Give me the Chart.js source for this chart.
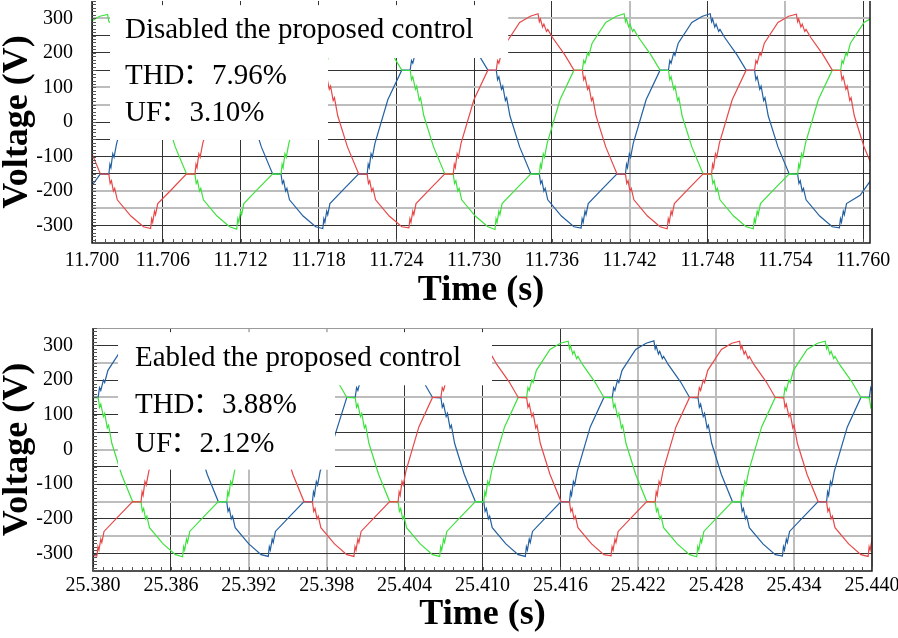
<!DOCTYPE html>
<html>
<head>
<meta charset="utf-8">
<script src="https://cdn.jsdelivr.net/npm/chart.js@4.4.1/dist/chart.umd.min.js"></script>
<style>
  html, body { margin: 0; padding: 0; background: #fff; }
  #wrap { position: relative; width: 898px; height: 638px; }
  canvas { position: absolute; left: 0; }
  #top { top: 0; }
  #bottom { top: 320px; }
</style>
</head>
<body>
<div id="wrap">
  <canvas id="top" width="898" height="320"></canvas>
  <canvas id="bottom" width="898" height="318"></canvas>
</div>
<script>
// time is in ms from the start of each window, voltage in V
const topTickTimes = [0.53, 6, 12, 18, 24, 30, 36, 42, 48, 54, 60];
const topTickLabels = ['11.700', '11.706', '11.712', '11.718', '11.724', '11.730', '11.736', '11.742', '11.748', '11.754', '11.760'];
const bottomTickTimes = [0, 6, 12, 18, 24, 30, 36, 42, 48, 54, 60];
const bottomTickLabels = ['25.380', '25.386', '25.392', '25.398', '25.404', '25.410', '25.416', '25.422', '25.428', '25.434', '25.440'];
const voltGridValues = [-300, -250, -200, -150, -100, -50, 0, 50, 100, 150, 200, 250, 300];
const voltTickValues = [-300, -200, -100, 0, 100, 200, 300];
const voltTickLabels = ['-300', '-200', '-100', '0', '100', '200', '300'];

const topNotes = ['Disabled the proposed control', 'THD：7.96%', 'UF：3.10%'];
const bottomNotes = ['Eabled the proposed control', 'THD：3.88%', 'UF：2.12%'];

// disabled control, phase a / b / c  [t (ms), V]
const topRed = [
  [-2.14,150],[-1.49,149],[-1.39,122],[-1.29,131],[-1.09,95],[-0.99,104],[-0.79,62],[-0.69,70],[-0.44,18],[0.31,-72],
  [1.18,-150],[1.83,-151],[1.93,-178],[2.03,-170],[2.18,-200],[2.28,-192],[2.48,-225],[3.53,-272],
  [4.50,-303],[5.05,-308],[5.13,-280],[5.21,-290],[5.35,-258],[5.43,-268],[5.60,-236],[6.65,-196],
  [7.82,-150],[8.47,-151],[8.55,-122],[8.63,-132],[8.77,-92],[8.87,-102],[9.07,-62],[10.07,65],
  [11.14,150],[11.79,151],[12.54,228],[13.59,288],
  [14.41,306],[15.01,311],[16.06,245],[17.01,195],
  [17.78,150],[18.43,149],[18.53,122],[18.63,131],[18.83,95],[18.93,104],[19.13,62],[19.23,70],[19.48,18],[20.23,-72],
  [21.10,-150],[21.75,-151],[21.85,-178],[21.95,-170],[22.10,-200],[22.20,-192],[22.40,-225],[23.45,-272],
  [24.42,-303],[24.97,-306],[25.05,-280],[25.13,-290],[25.27,-258],[25.35,-268],[25.52,-236],[26.57,-195],
  [27.74,-150],[28.39,-151],[28.47,-122],[28.55,-132],[28.69,-92],[28.79,-102],[28.99,-62],[29.99,65],
  [31.06,150],[31.71,151],[31.81,178],[31.91,170],[32.11,200],[32.21,193],[32.46,228],[33.51,288],
  [34.33,306],[34.93,313],[35.03,290],[35.11,298],[35.28,275],[35.38,283],[35.58,262],[35.68,268],[36.03,245],[36.98,195],
  [37.70,150],[38.35,149],[38.45,122],[38.55,131],[38.75,95],[38.85,104],[39.05,62],[39.15,70],[39.40,18],[40.15,-72],
  [41.02,-150],[41.67,-151],[41.77,-178],[41.87,-170],[42.02,-200],[42.12,-192],[42.32,-225],[43.37,-272],
  [44.34,-303],[44.89,-309],[44.97,-280],[45.05,-290],[45.19,-258],[45.27,-268],[45.44,-236],[46.49,-195],
  [47.66,-150],[48.31,-151],[48.39,-122],[48.47,-132],[48.61,-92],[48.71,-102],[48.91,-62],[49.91,65],
  [50.98,150],[51.63,151],[51.73,178],[51.83,170],[52.03,200],[52.13,193],[52.38,228],[53.43,288],
  [54.25,306],[54.85,312],[54.95,290],[55.03,298],[55.20,275],[55.30,283],[55.50,262],[55.60,268],[55.95,245],[56.90,195],
  [57.62,150],[58.27,149],[58.37,122],[58.47,131],[58.67,95],[58.77,104],[58.97,62],[59.07,70],[59.32,18],[60.07,-72],
  [60.94,-150],[61.59,-151]
];
const topGreen = [
  [-2.14,150],[-1.49,151],[-1.39,178],[-1.29,170],[-1.09,200],[-0.99,193],[-0.74,228],[0.31,288],
  [1.13,306],[1.73,311],[1.83,290],[2.83,262],[3.78,195],
  [4.50,150],[5.15,149],[5.95,62],[6.20,18],[6.95,-72],
  [7.82,-150],[8.47,-151],[8.57,-178],[8.67,-170],[8.82,-200],[8.92,-192],[9.12,-225],[10.17,-272],
  [11.14,-303],[11.69,-310],[11.77,-280],[11.85,-290],[11.99,-258],[12.07,-268],[12.24,-236],[13.29,-195],
  [14.46,-150],[15.11,-151],[15.19,-122],[15.27,-132],[15.41,-92],[15.51,-102],[15.71,-62],[16.71,65],
  [17.78,150],[18.43,151],[18.53,178],[18.63,170],[18.83,200],[18.93,193],[19.18,228],[20.23,288],
  [21.05,306],[21.65,311],[21.75,290],[21.83,298],[22.00,275],[22.10,283],[22.30,262],[22.40,268],[22.75,245],[23.70,195],
  [24.42,150],[25.07,149],[25.17,122],[25.27,131],[25.47,95],[25.57,104],[25.77,62],[25.87,70],[26.12,18],[26.87,-72],
  [27.74,-150],[28.39,-151],[28.49,-178],[28.59,-170],[28.74,-200],[28.84,-192],[29.04,-225],[30.09,-272],
  [31.06,-303],[31.61,-311],[31.69,-280],[31.77,-290],[31.91,-258],[31.99,-268],[32.16,-236],[33.21,-195],
  [34.38,-150],[35.03,-151],[35.11,-122],[35.19,-132],[35.33,-92],[35.43,-102],[35.63,-62],[36.63,65],
  [37.70,150],[38.35,151],[38.45,178],[38.55,170],[38.75,200],[38.85,193],[39.10,228],[40.15,288],
  [40.97,306],[41.57,313],[41.67,290],[41.75,298],[41.92,275],[42.02,283],[42.22,262],[42.32,268],[42.67,245],[43.62,195],
  [44.34,150],[44.99,149],[45.09,122],[45.19,131],[45.39,95],[45.49,104],[45.69,62],[45.79,70],[46.04,18],[46.79,-72],
  [47.66,-150],[48.31,-151],[48.41,-178],[48.51,-170],[48.66,-200],[48.76,-192],[48.96,-225],[50.01,-272],
  [50.98,-303],[51.53,-309],[51.61,-280],[51.69,-290],[51.83,-258],[51.91,-268],[52.08,-236],[53.13,-195],
  [54.30,-150],[54.95,-151],[55.03,-122],[55.11,-132],[55.25,-92],[55.35,-102],[55.55,-62],[56.55,65],
  [57.62,150],[58.27,151],[58.37,178],[58.47,170],[58.67,200],[58.77,193],[59.02,228],[60.07,288],
  [60.89,306],[61.49,311]
];
const topBlue = [
  [-2.14,-303],[-1.59,-307],[-1.51,-280],[-1.43,-290],[-1.29,-258],[-1.21,-268],[-1.04,-236],[0.21,-200],
  [1.18,-150],[1.83,-151],[1.91,-122],[1.99,-132],[2.13,-92],[2.23,-102],[2.43,-62],[3.43,65],
  [4.50,150],[5.15,151],[5.90,228],[6.95,288],
  [7.77,306],[8.37,311],[9.47,245],[10.42,195],
  [11.14,150],[11.79,149],[12.49,62],[12.84,18],[13.59,-72],
  [14.46,-150],[15.11,-151],[15.21,-178],[15.31,-170],[15.46,-200],[15.56,-192],[15.76,-225],[16.81,-272],
  [17.78,-303],[18.33,-308],[18.41,-280],[18.49,-290],[18.63,-258],[18.71,-268],[18.88,-236],[19.93,-195],
  [21.10,-150],[21.75,-151],[21.83,-122],[21.91,-132],[22.05,-92],[22.15,-102],[22.35,-62],[23.35,65],
  [24.42,150],[25.07,151],[25.17,178],[25.27,170],[25.47,200],[25.57,193],[25.82,228],[26.87,288],
  [27.69,306],[28.29,311],[29.39,245],[30.34,195],
  [31.06,150],[31.71,149],[31.81,122],[31.91,131],[32.11,95],[32.21,104],[32.41,62],[32.51,70],[32.76,18],[33.51,-72],
  [34.38,-150],[35.03,-151],[35.13,-178],[35.23,-170],[35.38,-200],[35.48,-192],[35.68,-225],[36.73,-272],
  [37.70,-303],[38.25,-307],[38.33,-280],[38.41,-290],[38.55,-258],[38.63,-268],[38.80,-236],[39.85,-195],
  [41.02,-150],[41.67,-151],[41.75,-122],[41.83,-132],[41.97,-92],[42.07,-102],[42.27,-62],[43.27,65],
  [44.34,150],[44.99,151],[45.09,178],[45.19,170],[45.39,200],[45.49,193],[45.74,228],[46.79,288],
  [47.61,306],[48.21,313],[48.31,290],[48.39,298],[48.56,275],[48.66,283],[48.86,262],[48.96,268],[49.31,245],[50.26,195],
  [50.98,150],[51.63,149],[51.73,122],[51.83,131],[52.03,95],[52.13,104],[52.33,62],[52.43,70],[52.68,18],[53.43,-72],
  [54.30,-150],[54.95,-151],[55.05,-178],[55.15,-170],[55.30,-200],[55.40,-192],[55.60,-225],[56.65,-272],
  [57.62,-303],[58.17,-306],[58.25,-280],[58.33,-290],[58.47,-258],[58.55,-268],[58.72,-236],[59.77,-212],
  [60.94,-150],[61.59,-151]
];

// enabled control, phase a / b / c  [t (ms), V]
const bottomRed = [
  [-3.55,-150],[-2.90,-151],[-2.80,-178],[-2.70,-170],[-2.55,-200],[-2.45,-192],[-2.25,-225],[-1.20,-272],
  [-0.25,-303],[0.30,-307],[0.38,-280],[0.46,-290],[0.60,-258],[0.68,-268],[0.85,-236],[1.90,-195],
  [3.05,-150],[3.70,-151],[3.78,-122],[3.86,-132],[4.00,-92],[4.10,-102],[4.30,-62],[5.30,65],
  [6.35,150],[7.00,151],[7.75,228],[8.80,288],
  [9.60,306],[10.20,311],[11.30,245],[12.25,195],
  [12.95,150],[13.60,149],[14.30,62],[14.65,18],[15.40,-72],
  [16.25,-150],[16.90,-151],[17.00,-178],[17.10,-170],[17.25,-200],[17.35,-192],[17.55,-225],[18.60,-272],
  [19.55,-303],[20.10,-308],[20.18,-280],[20.26,-290],[20.40,-258],[20.48,-268],[20.65,-236],[21.70,-195],
  [22.85,-150],[23.50,-151],[23.58,-122],[23.66,-132],[23.80,-92],[23.90,-102],[24.10,-62],[25.10,65],
  [26.15,150],[26.80,151],[26.90,178],[27.00,170],[27.20,200],[27.30,193],[27.55,228],[28.60,288],
  [29.40,306],[30.00,311],[30.10,290],[30.18,298],[30.35,275],[30.45,283],[30.65,262],[30.75,268],[31.10,245],[32.05,195],
  [32.75,150],[33.40,149],[33.50,122],[33.60,131],[33.80,95],[33.90,104],[34.10,62],[34.20,70],[34.45,18],[35.20,-72],
  [36.05,-150],[36.70,-151],[36.80,-178],[36.90,-170],[37.05,-200],[37.15,-192],[37.35,-225],[38.40,-272],
  [39.35,-303],[39.90,-306],[39.98,-280],[40.06,-290],[40.20,-258],[40.28,-268],[40.45,-236],[41.50,-195],
  [42.65,-150],[43.30,-151],[43.38,-122],[43.46,-132],[43.60,-92],[43.70,-102],[43.90,-62],[44.90,65],
  [45.95,150],[46.60,151],[46.70,178],[46.80,170],[47.00,200],[47.10,193],[47.35,228],[48.40,288],
  [49.20,306],[49.80,312],[49.90,290],[49.98,298],[50.15,275],[50.25,283],[50.45,262],[50.55,268],[50.90,245],[51.85,195],
  [52.55,150],[53.20,149],[53.30,122],[53.40,131],[53.60,95],[53.70,104],[53.90,62],[54.00,70],[54.25,18],[55.00,-72],
  [55.85,-150],[56.50,-151],[56.60,-178],[56.70,-170],[56.85,-200],[56.95,-192],[57.15,-225],[58.20,-272],
  [59.15,-303],[59.70,-308],[59.78,-280],[59.86,-290],[60.00,-258],[60.08,-268],[60.25,-236]
];
const bottomGreen = [
  [-3.60,306],[-3.00,311],[-2.90,290],[-2.82,298],[-2.65,275],[-2.55,283],[-2.35,262],[-2.25,268],[-1.90,245],[-0.95,195],
  [-0.25,150],[0.40,149],[0.50,122],[0.60,131],[0.80,95],[0.90,104],[1.10,62],[1.20,70],[1.45,18],[2.20,-72],
  [3.05,-150],[3.70,-151],[3.80,-178],[3.90,-170],[4.05,-200],[4.15,-192],[4.35,-225],[5.40,-272],
  [6.35,-303],[6.90,-309],[6.98,-280],[7.06,-290],[7.20,-258],[7.28,-268],[7.45,-236],[8.50,-195],
  [9.65,-150],[10.30,-151],[10.38,-122],[10.46,-132],[10.60,-92],[10.70,-102],[10.90,-62],[11.90,65],
  [12.95,150],[13.60,151],[14.35,228],[15.40,288],
  [16.20,306],[16.80,311],[17.90,245],[18.85,195],
  [19.55,150],[20.20,149],[20.30,122],[20.40,131],[20.60,95],[20.70,104],[20.90,62],[21.00,70],[21.25,18],[22.00,-72],
  [22.85,-150],[23.50,-151],[23.60,-178],[23.70,-170],[23.85,-200],[23.95,-192],[24.15,-225],[25.20,-272],
  [26.15,-303],[26.70,-308],[26.78,-280],[26.86,-290],[27.00,-258],[27.08,-268],[27.25,-236],[28.30,-195],
  [29.45,-150],[30.10,-151],[30.18,-122],[30.26,-132],[30.40,-92],[30.50,-102],[30.70,-62],[31.70,65],
  [32.75,150],[33.40,151],[33.50,178],[33.60,170],[33.80,200],[33.90,193],[34.15,228],[35.20,288],
  [36.00,306],[36.60,312],[36.70,290],[36.78,298],[36.95,275],[37.05,283],[37.25,262],[37.35,268],[37.70,245],[38.65,195],
  [39.35,150],[40.00,149],[40.10,122],[40.20,131],[40.40,95],[40.50,104],[40.70,62],[40.80,70],[41.05,18],[41.80,-72],
  [42.65,-150],[43.30,-151],[43.40,-178],[43.50,-170],[43.65,-200],[43.75,-192],[43.95,-225],[45.00,-272],
  [45.95,-303],[46.50,-309],[46.58,-280],[46.66,-290],[46.80,-258],[46.88,-268],[47.05,-236],[48.10,-195],
  [49.25,-150],[49.90,-151],[49.98,-122],[50.06,-132],[50.20,-92],[50.30,-102],[50.50,-62],[51.50,65],
  [52.55,150],[53.20,151],[53.30,178],[53.40,170],[53.60,200],[53.70,193],[53.95,228],[55.00,288],
  [55.80,306],[56.40,312],[56.50,290],[56.58,298],[56.75,275],[56.85,283],[57.05,262],[57.15,268],[57.50,245],[58.45,195],
  [59.15,150],[59.80,149],[59.90,122],[60.00,131],[60.20,95]
];
const bottomBlue = [
  [-3.55,-150],[-2.90,-151],[-2.82,-122],[-2.74,-132],[-2.60,-92],[-2.50,-102],[-2.30,-62],[-1.30,65],
  [-0.25,150],[0.40,151],[0.50,178],[0.60,170],[0.80,200],[0.90,193],[1.15,228],[2.20,288],
  [3.00,306],[3.60,311],[4.70,245],[5.65,195],
  [6.35,150],[7.00,149],[7.70,62],[8.05,18],[8.80,-72],
  [9.65,-150],[10.30,-151],[10.40,-178],[10.50,-170],[10.65,-200],[10.75,-192],[10.95,-225],[12.00,-272],
  [12.95,-303],[13.50,-308],[13.58,-280],[13.66,-290],[13.80,-258],[13.88,-268],[14.05,-236],[15.10,-195],
  [16.25,-150],[16.90,-151],[16.98,-122],[17.06,-132],[17.20,-92],[17.30,-102],[17.50,-62],[18.50,25],
  [19.55,150],[20.20,151],[20.30,178],[20.40,170],[20.60,200],[20.70,193],[20.95,228],[22.00,288],
  [22.80,306],[23.40,311],[24.50,245],[25.45,195],
  [26.15,150],[26.80,149],[26.90,122],[27.00,131],[27.20,95],[27.30,104],[27.50,62],[27.60,70],[27.85,18],[28.60,-72],
  [29.45,-150],[30.10,-151],[30.20,-178],[30.30,-170],[30.45,-200],[30.55,-192],[30.75,-225],[31.80,-272],
  [32.75,-303],[33.30,-308],[33.38,-280],[33.46,-290],[33.60,-258],[33.68,-268],[33.85,-236],[34.90,-195],
  [36.05,-150],[36.70,-151],[36.78,-122],[36.86,-132],[37.00,-92],[37.10,-102],[37.30,-62],[38.30,65],
  [39.35,150],[40.00,151],[40.10,178],[40.20,170],[40.40,200],[40.50,193],[40.75,228],[41.80,288],
  [42.60,306],[43.20,313],[43.30,290],[43.38,298],[43.55,275],[43.65,283],[43.85,262],[43.95,268],[44.30,245],[45.25,195],
  [45.95,150],[46.60,149],[46.70,122],[46.80,131],[47.00,95],[47.10,104],[47.30,62],[47.40,70],[47.65,18],[48.40,-72],
  [49.25,-150],[49.90,-151],[50.00,-178],[50.10,-170],[50.25,-200],[50.35,-192],[50.55,-225],[51.60,-272],
  [52.55,-303],[53.10,-307],[53.18,-280],[53.26,-290],[53.40,-258],[53.48,-268],[53.65,-236],[54.70,-195],
  [55.85,-150],[56.50,-151],[56.58,-122],[56.66,-132],[56.80,-92],[56.90,-102],[57.10,-62],[58.10,65],
  [59.15,150],[59.80,151],[59.90,178],[60.00,170],[60.20,200]
];

const serif = '"Liberation Serif", "Times New Roman", serif';
const noteFont = '29px "Liberation Serif", "Noto Sans CJK SC", serif';
const phaseColors = ['#e84848', '#3ee23e', '#2360a2'];
const gridDark = '#333333';
const gridLight = '#bdbdbd';

// draw a note; the full-width colon is pulled left against the word before it
function drawNote(ctx, txt, x, y, size) {
  const k = txt.indexOf('：');
  if (k < 0) { ctx.fillText(txt, x, y); return; }
  const head = txt.slice(0, k);
  ctx.fillText(head, x, y);
  const hx = x + ctx.measureText(head).width;
  ctx.fillText('：', hx - size * 0.06, y);
  ctx.fillText(txt.slice(k + 1), hx + size * 0.95, y);
}

// white boxes behind the notes, frame, minor ticks
const panelDecor = {
  id: 'panelDecor',
  afterDatasetsDraw(chart, args, o) {
    const { ctx, chartArea: a, scales: { x, y } } = chart;
    ctx.save();
    ctx.fillStyle = '#fff';
    o.masks.forEach(m => {
      const x0 = x.getPixelForValue(m.t0), x1 = x.getPixelForValue(m.t1);
      const y0 = y.getPixelForValue(m.v1), y1 = y.getPixelForValue(m.v0);
      ctx.fillRect(x0, y0, x1 - x0, y1 - y0);
    });

    ctx.fillStyle = '#000';
    ctx.font = noteFont;
    ctx.textBaseline = 'alphabetic';
    o.notes.forEach((txt, i) => {
      drawNote(ctx, txt, x.getPixelForValue(o.noteT), y.getPixelForValue(o.noteV[i]), 29);
    });

    // frame
    ctx.strokeStyle = '#1a1a1a';
    ctx.lineWidth = 1.5;
    ctx.beginPath();
    ctx.moveTo(a.left, a.top);
    ctx.lineTo(a.left, a.bottom);
    ctx.lineTo(a.right, a.bottom);
    ctx.lineTo(a.right, a.top);
    ctx.stroke();
    if (o.topEdge) {
      ctx.strokeStyle = o.topEdge;
      ctx.lineWidth = 1;
      ctx.beginPath();
      ctx.moveTo(a.left, a.top + 0.5);
      ctx.lineTo(a.right, a.top + 0.5);
      ctx.stroke();
    }

    // minor ticks
    ctx.strokeStyle = '#555';
    ctx.lineWidth = 1;
    ctx.beginPath();
    for (let v = -350; v <= 350; v += 10) {
      const py = Math.round(y.getPixelForValue(v)) + 0.5;
      ctx.moveTo(a.left, py);
      ctx.lineTo(a.left + 4, py);
    }
    for (let t = Math.ceil(x.min / 0.75) * 0.75; t <= x.max; t += 0.75) {
      const px = Math.round(x.getPixelForValue(t)) + 0.5;
      ctx.moveTo(px, a.bottom);
      ctx.lineTo(px, a.bottom - 4);
    }
    ctx.stroke();
    ctx.restore();
  }
};

function makePanel(id, p) {
  return new Chart(document.getElementById(id), {
    type: 'line',
    data: {
      datasets: p.series.map((pts, i) => ({
        data: pts.map(([t, v]) => ({ x: t, y: v })),
        borderColor: phaseColors[i],
        borderWidth: 1.2,
        pointRadius: 0,
        tension: 0,
        fill: false
      }))
    },
    options: {
      responsive: false,
      animation: false,
      events: [],
      layout: { padding: { top: p.padTop, right: p.padRight, bottom: 0, left: 0 } },
      plugins: {
        legend: { display: false },
        tooltip: { enabled: false },
        panelDecor: p.decor
      },
      scales: {
        x: {
          type: 'linear',
          min: p.tMin,
          max: p.tMax,
          afterBuildTicks: s => { s.ticks = p.tickTimes.map(v => ({ value: v })); },
          afterFit: s => { s.height = p.xAxisHeight; s.paddingLeft = 0; s.paddingRight = 0; },
          ticks: {
            autoSkip: false,
            maxRotation: 0,
            padding: p.xLabelPad,
            color: '#000',
            font: { family: serif, size: 20 },
            callback: (v, i) => p.tickLabels[i]
          },
          grid: {
            drawTicks: false,
            color: c => p.vLight.includes(c.tick && c.tick.value) ? gridLight : gridDark,
            lineWidth: c => p.vLight.includes(c.tick && c.tick.value) ? 2 : 1
          },
          border: { display: false },
          title: {
            display: true,
            text: 'Time (s)',
            color: '#000',
            font: { family: serif, size: 36, weight: 'bold', lineHeight: 1.2 },
            padding: { top: 0, bottom: p.xTitlePad }
          }
        },
        y: {
          min: -350,
          max: 350,
          afterBuildTicks: s => { s.ticks = voltGridValues.map(v => ({ value: v })); },
          afterFit: s => { s.width = p.yAxisWidth; s.paddingTop = 0; s.paddingBottom = 0; },
          ticks: {
            autoSkip: false,
            padding: p.yLabelPad,
            color: '#000',
            font: { family: serif, size: 20 },
            callback: v => {
              const k = voltTickValues.indexOf(v);
              return k >= 0 ? voltTickLabels[k] : '';
            }
          },
          grid: {
            drawTicks: false,
            color: c => p.hLight.includes(c.tick && c.tick.value) ? gridLight : gridDark,
            lineWidth: c => p.hLight.includes(c.tick && c.tick.value) ? 2 : 1
          },
          border: { display: false },
          title: {
            display: true,
            text: 'Voltage (V)',
            color: '#000',
            font: { family: serif, size: 36, weight: 'bold', lineHeight: 1 },
            padding: { top: 0, bottom: 0 }
          }
        }
      }
    },
    plugins: [panelDecor]
  });
}

makePanel('top', {
  series: [topRed, topGreen, topBlue],
  tMin: 0.53, tMax: 60.53,
  tickTimes: topTickTimes, tickLabels: topTickLabels,
  padTop: 1, padRight: 28, xAxisHeight: 77, yAxisWidth: 92,
  xLabelPad: 6, yLabelPad: 19, xTitlePad: 8,
  hLight: [300, 100, 50, -200, -250],
  vLight: [42, 54],
  decor: {
    masks: [
      { t0: 1.92, t1: 18.73, v0: -52, v1: 338 },
      { t0: 18.73, t1: 32.63, v0: 185, v1: 338 }
    ],
    notes: topNotes, noteT: 3.07, noteV: [242, 110, 3],
    topEdge: null
  }
});

makePanel('bottom', {
  series: [bottomRed, bottomGreen, bottomBlue],
  tMin: 0, tMax: 60,
  tickTimes: bottomTickTimes, tickLabels: bottomTickLabels,
  padTop: 8, padRight: 26, xAxisHeight: 67, yAxisWidth: 93,
  xLabelPad: 3, yLabelPad: 20, xTitlePad: 2,
  hLight: [250, 150, 0, -150, -250],
  vLight: [12, 18, 42, 48, 54, 60],
  decor: {
    masks: [
      { t0: 1.93, t1: 18.64, v0: -58, v1: 338 },
      { t0: 18.64, t1: 30.73, v0: 185, v1: 338 }
    ],
    notes: bottomNotes, noteT: 3.23, noteV: [240, 104, -6],
    topEdge: '#9a9a9a'
  }
});
</script>
</body>
</html>
